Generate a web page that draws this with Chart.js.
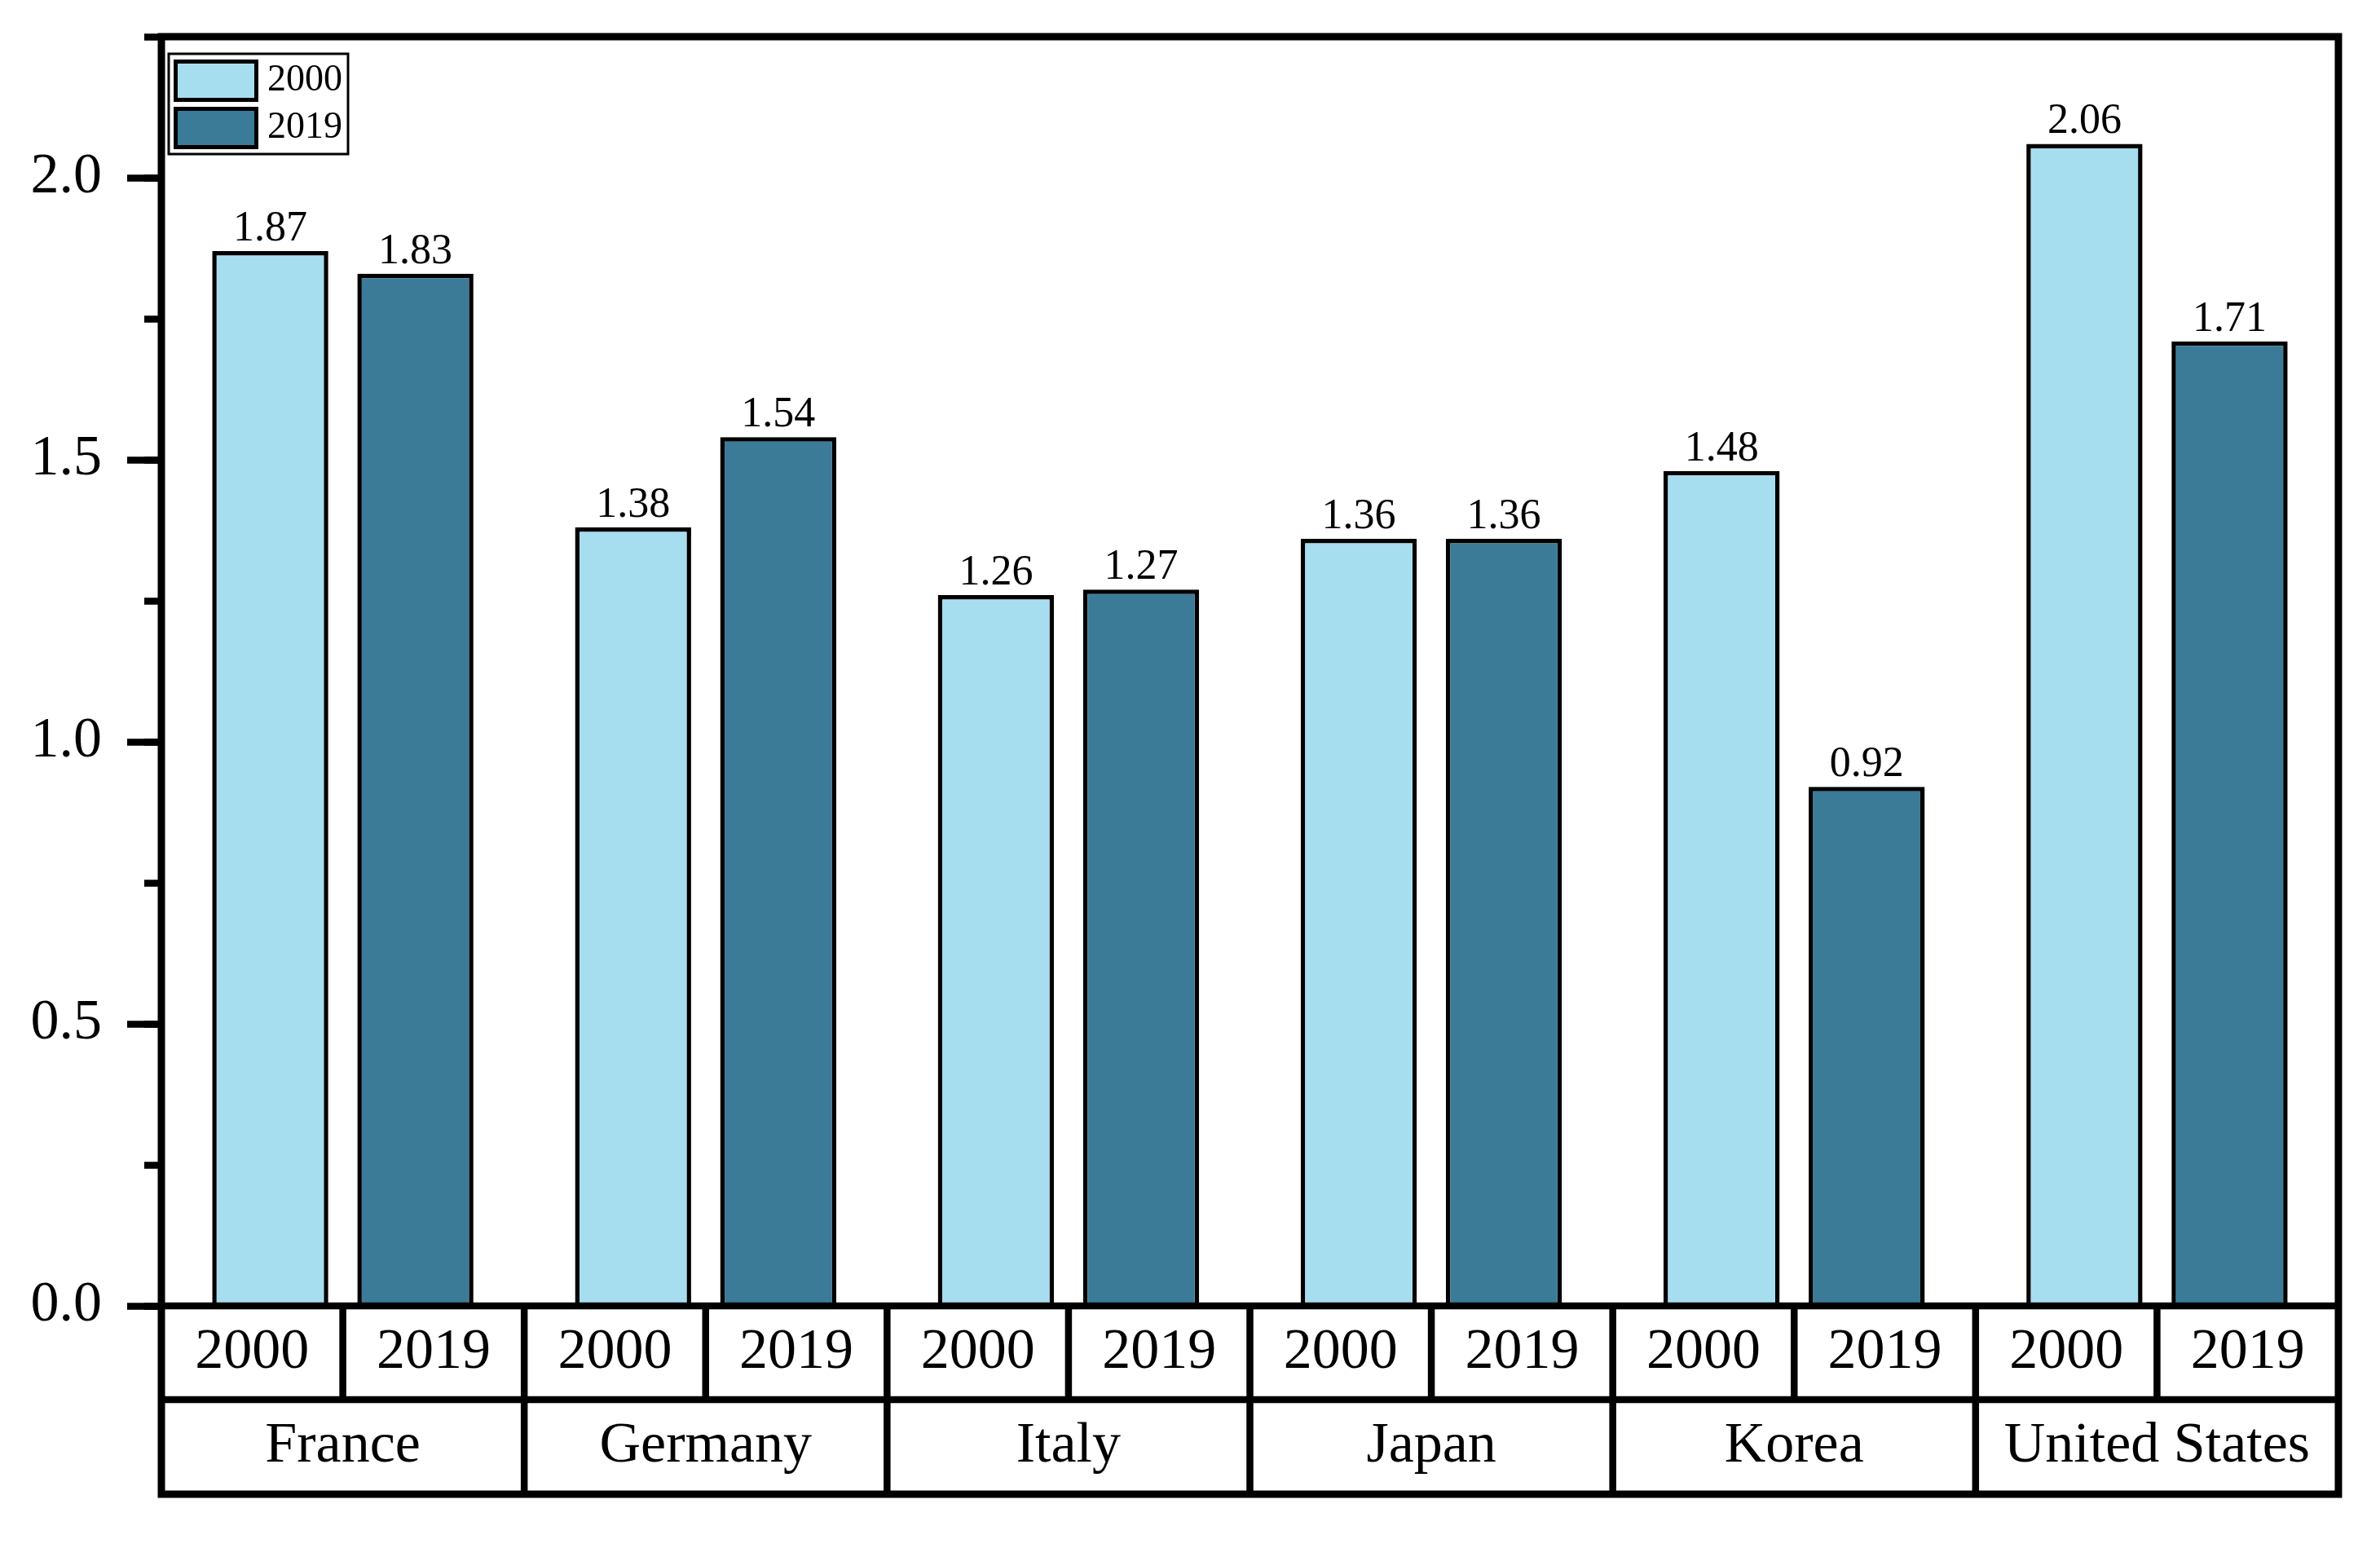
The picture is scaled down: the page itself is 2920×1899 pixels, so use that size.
<!DOCTYPE html>
<html><head><meta charset="utf-8">
<script src="https://cdn.jsdelivr.net/npm/chart.js@4.4.1/dist/chart.umd.min.js"></script>
<style>html,body{margin:0;padding:0;background:#fff;}canvas{display:block;}</style>
</head><body>
<canvas id="c" width="2920" height="1899" style="width:2920px;height:1899px"></canvas>
<script>
const countries = ['France', 'Germany', 'Italy', 'Japan', 'Korea', 'United States'];
const years = ['2000', '2019'];
const values2000 = [1.87, 1.38, 1.26, 1.36, 1.48, 2.06];
const values2019 = [1.83, 1.54, 1.27, 1.36, 0.92, 1.71];
const subLabels = countries.flatMap(() => years);
const yMax = 2.25;
const yMajorStep = 0.5;
const yMinorStep = 0.25;

const FONT = "'Liberation Serif', 'Times New Roman', serif";
Chart.defaults.font.family = FONT;
Chart.defaults.color = '#000';

const tablePlugin = {
  id: 'tablePlugin',
  afterDatasetsDraw(chart) {
    const ctx = chart.ctx;
    ctx.save();
    ctx.font = '52px ' + FONT;
    ctx.fillStyle = '#000';
    ctx.textAlign = 'center';
    ctx.textBaseline = 'alphabetic';
    chart.data.datasets.forEach((ds, di) => {
      const meta = chart.getDatasetMeta(di);
      meta.data.forEach((bar, i) => {
        ctx.fillText(ds.data[i].toFixed(2), bar.x, bar.y - 13);
      });
    });
    ctx.restore();
  },
  afterDraw(chart) {
    const ctx = chart.ctx, a = chart.chartArea;
    const xs = chart.scales.xSub, xc = chart.scales.x;
    const L = a.left, R = a.right, T = a.top, B = a.bottom;
    const r1 = xs.bottom, r2 = xc.bottom;
    ctx.save();
    ctx.strokeStyle = '#000';
    ctx.lineWidth = 9;
    ctx.lineJoin = 'miter';
    ctx.lineCap = 'butt';
    ctx.beginPath();
    ctx.moveTo(L, r2); ctx.lineTo(L, T); ctx.lineTo(R, T); ctx.lineTo(R, r2); ctx.closePath();
    ctx.stroke();
    ctx.lineWidth = 8.5;
    ctx.beginPath();
    ctx.moveTo(L, B); ctx.lineTo(R, B);
    ctx.moveTo(L, r1); ctx.lineTo(R, r1);
    const n = subLabels.length;
    const w = (R - L) / n;
    for (let i = 1; i < n; i++) {
      const x = L + i * w;
      ctx.moveTo(x, B);
      ctx.lineTo(x, i % 2 === 0 ? r2 : r1);
    }
    ctx.stroke();

    // legend
    const lx = L + 9, ly = T + 21;
    ctx.lineWidth = 3;
    ctx.strokeRect(lx, ly, 220, 123);
    chart.data.datasets.forEach((ds, k) => {
      const sx = lx + 8.5, sy = ly + 9.5 + k * 58;
      ctx.fillStyle = ds.backgroundColor;
      ctx.fillRect(sx, sy, 99, 47);
      ctx.lineWidth = 5;
      ctx.strokeStyle = '#000';
      ctx.strokeRect(sx, sy, 99, 47);
      ctx.fillStyle = '#000';
      ctx.font = '46px ' + FONT;
      ctx.textAlign = 'left';
      ctx.textBaseline = 'middle';
      ctx.fillText(ds.label, lx + 121, sy + 23.5);
    });
    ctx.restore();
  }
};

const noPad = (s) => { s.paddingTop = 0; s.paddingBottom = 0; s.paddingLeft = 0; s.paddingRight = 0; };

new Chart(document.getElementById('c'), {
  type: 'bar',
  data: {
    labels: countries,
    datasets: [
      { label: years[0], data: values2000, backgroundColor: '#A6DEF0', borderColor: '#000', borderWidth: 5.5, barPercentage: 0.8, categoryPercentage: 0.8, xAxisID: 'x', yAxisID: 'y' },
      { label: years[1], data: values2019, backgroundColor: '#3B7B98', borderColor: '#000', borderWidth: 5.5, barPercentage: 0.8, categoryPercentage: 0.8, xAxisID: 'x', yAxisID: 'y' }
    ]
  },
  options: {
    responsive: false,
    animation: false,
    devicePixelRatio: 1,
    layout: { padding: { top: 45, right: 51, bottom: 66, left: 0 } },
    plugins: { legend: { display: false }, tooltip: { enabled: false } },
    scales: {
      x: {
        type: 'category',
        position: 'bottom',
        weight: 1,
        offset: true,
        grid: { display: false, drawTicks: false },
        border: { display: false },
        ticks: { font: { size: 70 }, padding: 16, autoSkip: false, maxRotation: 0, minRotation: 0 },
        afterFit: (s) => { s.height = 116; noPad(s); }
      },
      xSub: {
        type: 'category',
        position: 'bottom',
        weight: 0,
        labels: subLabels,
        offset: true,
        grid: { display: false, drawTicks: false },
        border: { display: false },
        ticks: { font: { size: 70 }, padding: 15.5, autoSkip: false, maxRotation: 0, minRotation: 0 },
        afterFit: (s) => { s.height = 115; noPad(s); }
      },
      y: {
        type: 'linear',
        position: 'left',
        weight: 1,
        min: 0,
        max: yMax,
        border: { display: false },
        grid: { drawOnChartArea: false, drawTicks: true, tickLength: 42, tickWidth: 8.5, tickColor: '#000' },
        ticks: { stepSize: yMajorStep, includeBounds: false, font: { size: 70 }, padding: 31, callback: (v) => Number(v).toFixed(1) },
        afterFit: (s) => { s.width = 198; noPad(s); }
      },
      yMinor: {
        type: 'linear',
        position: 'left',
        weight: 0,
        min: 0,
        max: yMax,
        border: { display: false },
        grid: { drawOnChartArea: false, drawTicks: true, tickLength: 21, tickWidth: 8.5, tickColor: '#000' },
        ticks: { stepSize: yMinorStep, display: false },
        afterFit: (s) => { s.width = 0; noPad(s); }
      }
    }
  },
  plugins: [tablePlugin]
});
</script>
</body></html>
